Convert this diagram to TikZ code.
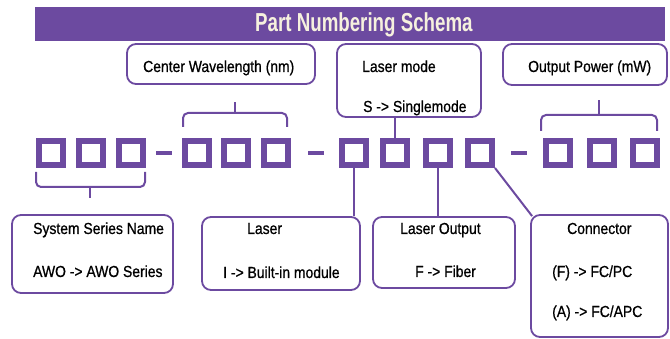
\documentclass[tikz,border=0pt]{standalone}
\usepackage{fontspec}
\setmainfont{Liberation Sans}
\newfontfamily\lblfont{Liberation Sans}[FakeStretch=0.87,FakeBold=0.8]
\newfontfamily\ttlfont{Liberation Sans}[FakeStretch=0.72]
\definecolor{pp}{RGB}{108,74,160}
\definecolor{cream}{RGB}{246,241,222}
\begin{document}
\begin{tikzpicture}[x=1pt,y=-1pt,
  sq/.style={draw=pp, line width=6pt, minimum size=24pt, inner sep=0pt, fill=white},
  box/.style={draw=pp, line width=1.8pt, rounded corners=9pt, inner sep=0pt},
  lbl/.style={anchor=base west, inner sep=0pt, font=\lblfont\fontsize{16}{18}\selectfont, text=black},
  conn/.style={draw=pp, line width=2pt},
  dashline/.style={draw=pp, line width=3.5pt},
  brk/.style={draw=pp, line width=2pt, rounded corners=5pt}]
\useasboundingbox (0,0) rectangle (670,339);
% title bar
\node[fill=pp, minimum width=630pt, minimum height=34pt, inner sep=0pt] (bar) at (350,24) {};
\node[anchor=base west, inner sep=0pt, text=cream, font=\ttlfont\bfseries\fontsize{26}{28}\selectfont] (ttl) at (255,32) {Part Numbering Schema};
% top boxes
\node[box, minimum width=188pt, minimum height=40pt] (cw) at (221,64) {};
\node[box, minimum width=144pt, minimum height=73pt] (lm) at (409,80.5) {};
\node[box, minimum width=164pt, minimum height=41pt] (op) at (585,64.5) {};
\node[lbl] (tcw) at (143,72) {Center Wavelength (nm)};
\node[lbl] (tlm1) at (362,72) {Laser mode};
\node[lbl] (tlm2) at (363,112) {S -> Singlemode};
\node[lbl] (top) at (528,72) {Output Power (mW)};
% bottom boxes
\node[box, minimum width=161pt, minimum height=78pt] (sys) at (92.5,254) {};
\node[box, minimum width=158pt, minimum height=73pt] (las) at (281,253.5) {};
\node[box, minimum width=142pt, minimum height=71pt] (lo) at (444,252.5) {};
\node[box, minimum width=137pt, minimum height=122pt] (con) at (599.5,276) {};
\node[lbl] (tsys1) at (33,234) {System Series Name};
\node[lbl] (tsys2) at (33,277) {AWO -> AWO Series};
\node[lbl] (tlas1) at (247,234) {Laser};
\node[lbl] (tlas2) at (223,278) {I -> Built-in module};
\node[lbl] (tlo1) at (400,234) {Laser Output};
\node[lbl] (tlo2) at (415,277) {F -> Fiber};
\node[lbl] (tcon1) at (567,234) {Connector};
\node[lbl] (tcon2) at (552,277) {(F) -> FC/PC};
\node[lbl] (tcon3) at (552,317) {(A) -> FC/APC};
% squares
\node[sq] (s11) at (51,153) {};
\node[sq] (s12) at (91,153) {};
\node[sq] (s13) at (131,153) {};
\node[sq] (s21) at (197,153) {};
\node[sq] (s22) at (236,153) {};
\node[sq] (s23) at (276,153) {};
\node[sq] (s31) at (354,153) {};
\node[sq] (s32) at (395,153) {};
\node[sq] (s33) at (438,153) {};
\node[sq] (s34) at (480,153) {};
\node[sq] (s41) at (558,153) {};
\node[sq] (s42) at (602,153) {};
\node[sq] (s43) at (645,153) {};
% dashes
\draw[dashline, shorten <=10pt, shorten >=10pt] (s13.east) -- (s21.west);
\draw[dashline, shorten <=17pt, shorten >=15pt] (s23.east) -- (s31.west);
\draw[dashline, shorten <=16pt, shorten >=16pt] (s34.east) -- (s41.west);
% brackets
\coordinate (b1a) at (36,172);
\coordinate (b1b) at (145,172);
\coordinate (b1m) at (90,187);
\coordinate (b1t) at (90,198);
\draw[brk] (b1a) |- (b1m) -| (b1b);
\draw[conn] (b1m) -- (b1t);
\coordinate (b2a) at (183,127);
\coordinate (b2b) at (287,127);
\coordinate (b2m) at (235,113);
\coordinate (b2t) at (235,102);
\draw[brk] (b2a) |- (b2m) -| (b2b);
\draw[conn] (b2m) -- (b2t);
\coordinate (b4a) at (541,131);
\coordinate (b4b) at (657,131);
\coordinate (b4m) at (599,115);
\coordinate (b4t) at (599,100);
\draw[brk] (b4a) |- (b4m) -| (b4b);
\draw[conn] (b4m) -- (b4t);
% connectors
\draw[conn] (s32.north) -- (s32.north |- lm.south);
\draw[conn] (s31.south) -- (s31.south |- las.north);
\draw[conn] (s33.south) -- (s33.south |- lo.north);
\draw[conn] (s34.south east) -- ([shift={(2,2)}]con.north west);
\end{tikzpicture}
\end{document}
